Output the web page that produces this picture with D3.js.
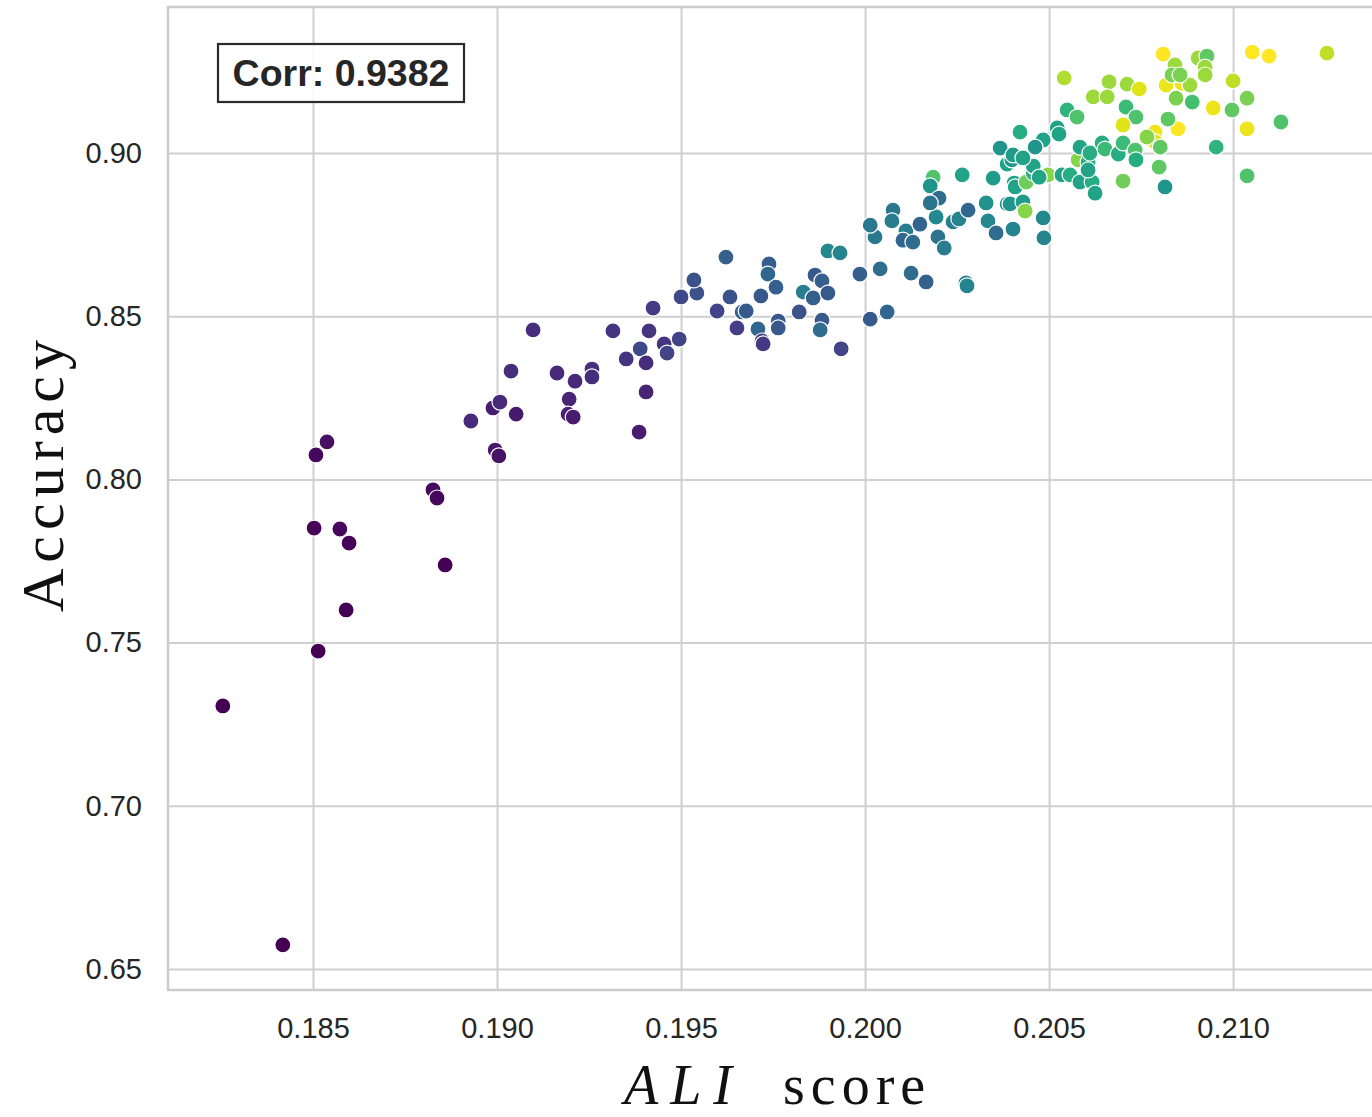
<!DOCTYPE html>
<html>
<head>
<meta charset="utf-8">
<script src="https://cdn.jsdelivr.net/npm/d3@7"></script>
<style>
  body { margin: 0; background: #fff; }
  svg { display: block; }
</style>
</head>
<body>
<svg id="chart" width="1372" height="1117"></svg>
<script>
// ALI score (x), accuracy (y), colour value (0..1, viridis)
const aliScore = [
  0.18255, 0.18418, 0.18508, 0.18538, 0.18503, 0.18573, 0.18598, 0.18590, 0.18514, 0.18826,
  0.18837, 0.18859, 0.18929, 0.18989, 0.19008, 0.19052, 0.18995, 0.19005, 0.19038, 0.19098,
  0.19163, 0.19212, 0.19196, 0.19193, 0.19207, 0.19258, 0.19258, 0.19315, 0.19351, 0.19389,
  0.19413, 0.19405, 0.19405, 0.19386, 0.19424, 0.19454, 0.19462, 0.19495, 0.19500, 0.19543,
  0.19535, 0.19598, 0.19633, 0.19622, 0.19652, 0.19666, 0.19677, 0.19709, 0.19720, 0.19723,
  0.19739, 0.19736, 0.19758, 0.19717, 0.19764, 0.19764, 0.19821, 0.19864, 0.19883, 0.19832,
  0.19859, 0.19899, 0.19883, 0.19878, 0.19935, 0.19899, 0.19932, 0.19986, 0.20041, 0.20014,
  0.20060, 0.20027, 0.20014, 0.20076, 0.20073, 0.20111, 0.20103, 0.20130, 0.20149, 0.20193,
  0.20198, 0.20215, 0.20125, 0.20166, 0.20274, 0.20277, 0.20264, 0.20185, 0.20177, 0.20201,
  0.20177, 0.20348, 0.20239, 0.20255, 0.20280, 0.20334, 0.20356, 0.20402, 0.20484, 0.20486,
  0.20329, 0.20386, 0.20394, 0.20429, 0.20435, 0.20405, 0.20408, 0.20438, 0.20457, 0.20386,
  0.20399, 0.20457, 0.20497, 0.20535, 0.20557, 0.20584, 0.20617, 0.20625, 0.20579, 0.20606,
  0.20421, 0.20549, 0.20576, 0.20709, 0.20736, 0.20701, 0.20788, 0.20788, 0.20850, 0.20823,
  0.20522, 0.20527, 0.20484, 0.20462, 0.20367, 0.20402, 0.20429, 0.20473, 0.20584, 0.20611,
  0.20606, 0.20644, 0.20652, 0.20688, 0.20701, 0.20734, 0.20736, 0.20766, 0.20802, 0.20799,
  0.20701, 0.20815, 0.20810, 0.21052, 0.21098, 0.21255, 0.20541, 0.20663, 0.20712, 0.20745,
  0.20620, 0.20658, 0.20905, 0.20929, 0.20924, 0.20924, 0.20842, 0.20818, 0.20861, 0.20883,
  0.20834, 0.20856, 0.20845, 0.20889, 0.21000, 0.21038, 0.20946, 0.20997, 0.21130, 0.21038,
  0.20954, 0.21038
];
const accuracy = [
  0.7306, 0.6574, 0.8075, 0.8115, 0.7851, 0.7848, 0.7805, 0.7600, 0.7474, 0.7968,
  0.7943, 0.7738, 0.8179, 0.8219, 0.8237, 0.8200, 0.8090, 0.8072, 0.8332, 0.8458,
  0.8326, 0.8301, 0.8246, 0.8200, 0.8191, 0.8338, 0.8314, 0.8455, 0.8369, 0.8400,
  0.8455, 0.8357, 0.8268, 0.8145, 0.8525, 0.8415, 0.8387, 0.8430, 0.8559, 0.8571,
  0.8611, 0.8516, 0.8559, 0.8681, 0.8464, 0.8513, 0.8516, 0.8461, 0.8424, 0.8415,
  0.8660, 0.8629, 0.8589, 0.8562, 0.8485, 0.8464, 0.8513, 0.8626, 0.8608, 0.8574,
  0.8556, 0.8571, 0.8488, 0.8458, 0.8400, 0.8700, 0.8694, 0.8629, 0.8645, 0.8491,
  0.8513, 0.8743, 0.8779, 0.8825, 0.8792, 0.8761, 0.8733, 0.8727, 0.8782, 0.8804,
  0.8743, 0.8709, 0.8632, 0.8605, 0.8602, 0.8593, 0.8933, 0.8926, 0.8899, 0.8862,
  0.8847, 0.8923, 0.8789, 0.8798, 0.8825, 0.8792, 0.8755, 0.8767, 0.8801, 0.8740,
  0.8847, 0.8844, 0.8844, 0.8850, 0.8822, 0.8908, 0.8896, 0.8911, 0.8939, 0.8966,
  0.8979, 0.8960, 0.8933, 0.8933, 0.8933, 0.8911, 0.8911, 0.8877, 0.8979, 0.8972,
  0.9064, 0.9132, 0.9110, 0.9141, 0.9110, 0.9086, 0.9064, 0.9034, 0.9074, 0.9104,
  0.9077, 0.9058, 0.9040, 0.9018, 0.9015, 0.8994, 0.8985, 0.8926, 0.9018, 0.9000,
  0.8948, 0.9031, 0.9012, 0.8997, 0.9031, 0.9009, 0.8979, 0.9049, 0.9018, 0.8957,
  0.8914, 0.8896, 0.9303, 0.9309, 0.9297, 0.9306, 0.9230, 0.9218, 0.9211, 0.9196,
  0.9172, 0.9172, 0.9291, 0.9297, 0.9263, 0.9239, 0.9270, 0.9208, 0.9214, 0.9208,
  0.9239, 0.9239, 0.9168, 0.9156, 0.9221, 0.9168, 0.9138, 0.9132, 0.9095, 0.9074,
  0.9018, 0.8930
];
const hueVal = [
  0.00, 0.00, 0.02, 0.04, 0.01, 0.02, 0.01, 0.00, 0.00, 0.03,
  0.02, 0.00, 0.12, 0.08, 0.12, 0.07, 0.06, 0.05, 0.13, 0.13,
  0.12, 0.11, 0.10, 0.09, 0.08, 0.14, 0.13, 0.15, 0.15, 0.22,
  0.15, 0.13, 0.10, 0.08, 0.17, 0.15, 0.20, 0.20, 0.22, 0.25,
  0.25, 0.20, 0.25, 0.30, 0.18, 0.30, 0.28, 0.33, 0.18, 0.17,
  0.30, 0.33, 0.30, 0.27, 0.27, 0.27, 0.25, 0.27, 0.30, 0.42,
  0.30, 0.28, 0.28, 0.35, 0.20, 0.47, 0.45, 0.30, 0.35, 0.28,
  0.33, 0.40, 0.40, 0.40, 0.42, 0.42, 0.33, 0.35, 0.32, 0.47,
  0.38, 0.42, 0.35, 0.30, 0.43, 0.45, 0.58, 0.72, 0.52, 0.35,
  0.38, 0.55, 0.42, 0.45, 0.33, 0.47, 0.35, 0.45, 0.47, 0.45,
  0.50, 0.50, 0.52, 0.55, 0.82, 0.58, 0.58, 0.78, 0.62, 0.58,
  0.52, 0.58, 0.82, 0.58, 0.62, 0.58, 0.62, 0.58, 0.82, 0.62,
  0.62, 0.65, 0.72, 0.68, 0.72, 0.95, 0.97, 0.95, 1.00, 0.75,
  0.58, 0.58, 0.58, 0.52, 0.52, 0.55, 0.58, 0.58, 0.58, 0.62,
  0.58, 0.62, 0.68, 0.62, 0.68, 0.72, 0.62, 0.82, 0.75, 0.75,
  0.78, 0.52, 1.00, 1.00, 1.00, 0.90, 0.88, 0.85, 0.85, 0.95,
  0.85, 0.85, 0.85, 0.75, 0.85, 0.85, 0.85, 0.97, 0.97, 0.85,
  0.80, 0.80, 0.80, 0.70, 0.90, 0.80, 0.97, 0.75, 0.72, 0.97,
  0.65, 0.72
];

const xTicks = [0.185, 0.190, 0.195, 0.200, 0.205, 0.210];
const yTicks = [0.65, 0.70, 0.75, 0.80, 0.85, 0.90];
const xDomain = [0.18106, 0.21391];
const yDomain = [0.64357, 0.94473];
const corrLabel = "Corr: 0.9382";

const svg = d3.select("#chart");
const margin = { left: 168, top: 7 };
const W = 1209, H = 983;

const x = d3.scaleLinear().domain(xDomain).range([0, W]);
const y = d3.scaleLinear().domain(yDomain).range([H, 0]);
const colour = d3.scaleSequential(d3.interpolateViridis).domain([0, 1]);

const g = svg.append("g")
  .attr("transform", "translate(" + margin.left + "," + margin.top + ")");

// grid + tick labels
const xAxis = g.append("g")
  .attr("transform", "translate(0," + H + ")")
  .call(d3.axisBottom(x).tickValues(xTicks).tickSize(-H).tickPadding(27)
    .tickFormat(d3.format(".3f")));
const yAxis = g.append("g")
  .call(d3.axisLeft(y).tickValues(yTicks).tickSize(-W).tickPadding(26)
    .tickFormat(d3.format(".2f")));

[xAxis, yAxis].forEach(function (a) {
  a.select(".domain").remove();
  a.selectAll(".tick line").attr("stroke", "#cfcfcf").attr("stroke-width", 2);
  a.selectAll(".tick text")
    .attr("fill", "#262626")
    .style("font-family", "'Liberation Sans', Arial, sans-serif")
    .style("font-size", "29px");
});

// spines
g.append("rect")
  .attr("x", 0).attr("y", 0).attr("width", W).attr("height", H)
  .attr("fill", "none").attr("stroke", "#cccccc").attr("stroke-width", 2.5);

// points
g.append("g").selectAll("circle")
  .data(d3.range(aliScore.length))
  .join("circle")
  .attr("cx", i => x(aliScore[i]))
  .attr("cy", i => y(accuracy[i]))
  .attr("r", 8)
  .attr("fill", i => colour(hueVal[i]))
  .attr("stroke", "#ffffff")
  .attr("stroke-width", 1.2);

// correlation box
const box = g.append("g").attr("transform", "translate(50,37)");
box.append("rect")
  .attr("width", 246).attr("height", 58)
  .attr("fill", "#ffffff").attr("fill-opacity", 0.85)
  .attr("stroke", "#2b2b2b").attr("stroke-width", 2.2);
box.append("text")
  .attr("x", 123).attr("y", 42)
  .attr("text-anchor", "middle")
  .attr("fill", "#262626")
  .style("font-family", "'Liberation Sans', Arial, sans-serif")
  .style("font-weight", "bold")
  .style("font-size", "37.5px")
  .text(corrLabel);

// axis titles
svg.append("text")
  .attr("transform", "translate(63,476) rotate(-90)")
  .attr("text-anchor", "middle")
  .attr("fill", "#111")
  .attr("textLength", 272)
  .attr("lengthAdjust", "spacing")
  .style("font-family", "'Liberation Serif', 'DejaVu Serif', serif")
  .style("font-size", "60px")
  .text("Accuracy");

const xt = svg.append("text")
  .attr("x", 624).attr("y", 1104)
  .attr("fill", "#111")
  .style("font-family", "'Liberation Serif', 'DejaVu Serif', serif")
  .style("font-size", "56px");
xt.append("tspan").style("font-style", "italic").style("letter-spacing", "12px").text("ALI");
xt.append("tspan").attr("x", 783).style("letter-spacing", "6px").text("score");
</script>
</body>
</html>
